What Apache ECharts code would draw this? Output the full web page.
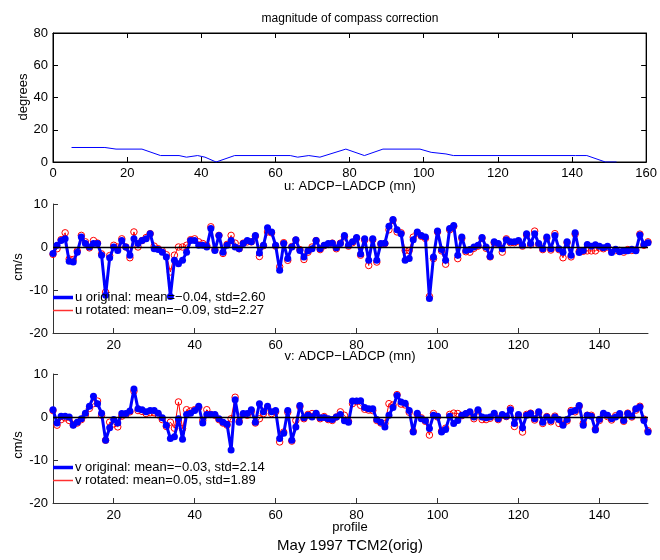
<!DOCTYPE html>
<html>
<head>
<meta charset="utf-8">
<script src="https://cdn.jsdelivr.net/npm/echarts@6/dist/echarts.min.js"></script>
<style>
  html, body { margin: 0; padding: 0; background: #fff; }
  #chart { width: 660px; height: 560px; }
</style>
</head>
<body>
<div id="chart"></div>
<script>
// compass correction (degrees) per profile
var corrProfile = [5, 14, 17, 24, 29, 34, 36, 39, 41, 44, 49, 64, 66, 69, 72, 79, 84, 89, 99, 102, 106, 108, 141, 144, 149, 152]
var corrDeg = [9, 9, 8, 8, 4, 4, 3, 4, 3, 0, 4, 4, 3, 4, 3, 8, 4, 8, 8, 6, 5, 4, 4, 4, 0, 0]

// profiles 5..152, one value each (rows of 10)
var firstProfile = 5
var uOriginal = [
  -1.5, 0.4, 1.5, 1.9, -3.3, -3.5, -1.2, 2.3, 0.8, 0,
  0.8, 0.8, -1.9, -11.2, -2.5, 0, -0.8, 1.5, 0, -1.9,
  1.9, 0.8, 1.5, 1.9, 3.1, -0.4, -0.6, -1.2, -2.3, -11.5,
  -3.1, -3.9, -3.1, -1.2, 1.5, 1.5, 0.4, 0.4, 0, 4.3,
  -0.8, 2.7, -1.2, 0.4, 1.5, 0, -0.4, 0.8, 1.5, 1.2,
  2.7, -1.4, 0.4, 4.5, 3.5, 0.4, -5.4, 0.8, -2.7, 0,
  1.7, -0.8, -2.3, -0.9, -0.4, 1.5, -0.4, 0.4, 0.8, 0.9,
  -0.2, 0.8, 2.7, 0.4, 1.2, 2.2, -1.6, 1.9, -3.1, 1.9,
  -3.1, 0.8, 0.9, 4.8, 6.4, 4.0, 3.1, -3.1, -2.7, 1.7,
  3.5, 2.7, 2.3, -12.0, -2.3, 3.7, -0.6, -3.1, 4.3, 5.0,
  -1.9, 2.3, -0.8, -0.6, 0, 0.4, 2.2, 0, -2.2, 1.2,
  0.8, -0.4, 1.7, 1.2, 1.2, 1.5, 0.4, 3.1, 0.8, 3.1,
  0.8, -0.4, 2.3, -0.4, 2.7, -0.4, -1.2, 1.2, -1.9, 3.3,
  -1.3, -0.8, 0.6, 0.2, 0.5, 0.2, -0.2, 0.2, -1.3, -0.5,
  -1.1, -0.9, -0.9, -0.5, -0.9, 2.8, 0.6, 1.0
]
var uRotated = [
  -1.7, -0.4, 1.7, 3.3, -2.8, -2.9, -0.9, 2.7, 1.2, -0.2,
  1.5, 0.9, -1.6, -10.5, -2.0, 0.4, 0, 1.9, 0, -2.5,
  3.5, 0, 1.5, 2.2, 3.1, 0.2, -0.4, -0.9, -1.8, -5.8,
  -1.9, 0, 0, 0.4, 1.7, 1.9, 1.2, 0.8, 0.3, 4.7,
  -0.6, 2.7, -1.5, 0.6, 2.7, 0.9, -0.4, 0.9, 1.2, 1.2,
  2.5, -2.2, 0.3, 3.5, 3.3, 0.2, -4.6, 1.0, -3.1, 0.1,
  1.6, -0.6, -2.9, -1.2, 0, 1.5, -0.6, 0.3, 0.6, 0.9,
  -0.4, 0.9, 2.4, 0.2, 1.0, 2.0, -1.9, 1.6, -4.3, 1.7,
  -3.5, 0.6, 0.8, 4.0, 6.2, 3.5, 3.3, -0.8, -0.8, 2.3,
  3.3, 2.5, 2.0, -11.5, -2.7, 3.5, -0.9, -4.0, 4.0, 4.8,
  -2.7, 2.0, -1.1, -1.2, -0.3, 0.2, 2.0, -0.3, -2.3, 1.0,
  0.6, -1.2, 1.9, 1.0, 1.0, 1.3, 0.2, 2.8, 0.5, 3.7,
  0.6, -0.6, 2.0, -0.7, 3.1, -0.6, -2.5, 1.0, -2.3, 3.0,
  -1.0, -1.0, -0.9, -0.9, -0.9, -0.2, -0.4, 0, -0.8, -0.8,
  -0.8, -1.2, -0.6, -0.8, -0.7, 3.0, 0.4, 1.2
]
var vOriginal = [
  1.7, -1.4, 0.2, 0.2, 0, -1.9, -1.2, -0.4, 0.9, 2.5,
  4.8, 3.1, 0.9, -5.4, -2.5, -0.6, -1.4, 0.8, 0.8, 1.4,
  6.5, 1.9, 1.7, 1.2, 1.5, 1.5, 0.9, -0.2, -1.9, -5.0,
  -4.6, -0.4, -5.2, 0.6, 0.9, 1.5, 2.5, -1.4, 0.6, 0.6,
  0.6, -0.4, -1.2, -1.7, -7.7, 4.0, -1.2, 0.8, 0.8, 1.7,
  -1.2, 3.1, 1.2, 2.5, 1.2, 1.5, -5.0, -3.8, 1.5, -5.4,
  -2.3, 2.7, -0.2, 0.4, 0, 0.9, -0.2, -0.1, -0.4, -0.6,
  0, 0.6, -0.9, -1.2, 3.7, 3.7, 3.8, 2.2, 1.9, 1.9,
  -0.6, -1.2, -2.3, 0.4, 2.2, 5.0, 3.5, 3.2, 1.5, -3.5,
  0.9, -0.4, -0.8, -2.7, 0.4, 0.2, -3.5, -2.9, 0.2, -1.5,
  -0.8, 0.4, 0.8, 1.2, 0, 1.7, 0, -0.2, 0, 0.9,
  -0.4, 0.6, 0.2, 1.7, -1.5, 0.6, -2.5, 0.4, 0.8, -0.4,
  1.2, -1.2, 0, -0.8, 0, -0.6, -1.9, -0.6, 1.2, 1.5,
  2.7, -1.9, 0.4, 0.2, -3.0, -0.5, 0.9, 0.4, -0.4, 0,
  0.8, -0.8, 0.8, 0.2, 1.9, 2.3, -0.8, -3.5
]
var vRotated = [
  1.5, -1.9, -0.6, -0.2, -0.8, -1.8, -1.4, -0.6, 0.5, 2.0,
  3.1, 3.7, 0.4, -5.4, -1.2, -1.6, -2.3, 0.2, 0.6, 1.2,
  6.0, 1.5, 1.3, 0.8, 1.0, 1.0, 0.5, -0.6, -2.2, -1.2,
  -2.6, 3.5, -2.7, 1.7, 1.4, 1.7, 2.2, -0.8, 1.7, 0.6,
  0.4, -0.6, -1.4, -1.9, -0.4, 4.6, -1.0, 0.6, 0.4, 1.3,
  -1.4, -0.4, 0.8, 2.2, 0.8, 1.2, -5.8, -3.5, 1.1, -5.6,
  -0.8, 2.4, -0.4, 0.6, 0.8, 0.7, -0.4, 0.1, -0.6, -0.8,
  0, 1.2, 0.4, -1.0, 3.1, 3.6, 2.7, 1.8, 1.6, 1.5,
  -0.8, -1.4, -1.5, 3.1, 2.8, 5.2, 3.0, 2.8, 1.1, -3.3,
  0.6, -0.2, -1.0, -4.2, 0.8, 0, -3.3, -2.6, 0.6, 0.9,
  0.8, 0.3, 0.7, 1.0, -0.4, 1.4, -0.6, -0.6, -0.3, 0.6,
  -0.6, 0.4, 0.1, 2.0, -2.2, 0.3, -3.5, 0.6, 0.9, -0.7,
  1.0, -1.5, 0.1, -1.1, 0.2, -1.5, -1.7, -0.9, 1.5, 1.2,
  2.5, -1.5, 0.4, 0.4, -2.8, -0.8, 0.6, 0.1, -0.7, 0.3,
  0.5, -1.0, 0.9, 0, 1.6, 2.5, -0.5, -3.2
]

var profileTicks = [20, 40, 60, 80, 100, 120, 140]
var uOrigName = 'u original: mean=\u22120.04, std=2.60'
var uRotName = 'u rotated: mean=\u22120.09, std=2.27'
var vOrigName = 'v original: mean=\u22120.03, std=2.14'
var vRotName = 'v rotated: mean=0.05, std=1.89'

var FONT = 'Liberation Sans, Arial, sans-serif'

function withProfiles(vals) {
  return vals.map(function (v, i) { return [firstProfile + i, v] })
}

var chart = echarts.init(document.getElementById('chart'))

function boxAxis(gridIndex, pos, min, max, interval, showLabel) {
  return {
    gridIndex: gridIndex,
    type: 'value',
    position: pos,
    min: min,
    max: max,
    interval: interval,
    axisLine: { show: true, onZero: false, lineStyle: { color: '#000', width: 1 } },
    axisTick: { show: true, inside: true, length: 5, lineStyle: { color: '#000' } },
    axisLabel: { show: showLabel, color: '#000', fontSize: 13, fontFamily: FONT, margin: 5 },
    splitLine: { show: false }
  }
}

function profileAxis(gridIndex) {
  return {
    gridIndex: gridIndex,
    type: 'value',
    min: 5,
    max: 152,
    axisLine: { show: true, onZero: false, lineStyle: { color: '#333', width: 1 } },
    axisTick: { show: true, inside: true, length: 5, customValues: profileTicks, lineStyle: { color: '#333' } },
    axisLabel: { color: '#000', fontSize: 13, fontFamily: FONT, margin: 6, customValues: profileTicks },
    splitLine: { show: false }
  }
}

function cmsAxis(gridIndex) {
  return {
    gridIndex: gridIndex,
    type: 'value',
    min: -20,
    max: 10,
    interval: 10,
    axisLine: { show: true, onZero: false, lineStyle: { color: '#333', width: 1 } },
    axisTick: { show: true, inside: true, length: 5, lineStyle: { color: '#333' } },
    axisLabel: { color: '#000', fontSize: 13, fontFamily: FONT, margin: 5 },
    splitLine: { show: false }
  }
}

function legendFor(name, top, color, thick) {
  return {
    data: [name],
    left: 53,
    top: top,
    padding: 0,
    orient: 'vertical',
    icon: 'rect',
    itemWidth: 20,
    itemHeight: thick,
    selectedMode: false,
    itemStyle: { color: color, borderWidth: 0 },
    textStyle: { color: '#000', fontSize: 13, fontFamily: FONT, padding: [0, 0, 0, -3] }
  }
}

function rotatedSeries(name, axisIdx, vals) {
  return {
    name: name,
    type: 'line',
    xAxisIndex: axisIdx,
    yAxisIndex: axisIdx,
    data: withProfiles(vals),
    symbol: 'circle',
    symbolSize: 6.5,
    showAllSymbol: true,
    itemStyle: { color: 'rgba(255,255,255,0)', borderColor: '#ff0000', borderWidth: 1 },
    lineStyle: { color: '#ff0000', width: 1 },
    z: 2,
    animation: false
  }
}

function originalSeries(name, axisIdx, vals) {
  return {
    name: name,
    type: 'line',
    xAxisIndex: axisIdx,
    yAxisIndex: axisIdx,
    data: withProfiles(vals),
    symbol: 'circle',
    symbolSize: 7,
    showAllSymbol: true,
    itemStyle: { color: '#0000ff' },
    lineStyle: { color: '#0000ff', width: 3 },
    z: 3,
    animation: false,
    markLine: {
      silent: true,
      symbol: 'none',
      label: { show: false },
      lineStyle: { color: '#000', width: 1.3, type: 'solid' },
      data: [{ yAxis: 0 }],
      animation: false
    }
  }
}

function label(text, x, y, size, rot) {
  return {
    type: 'text',
    x: x,
    y: y,
    rotation: rot || 0,
    style: {
      text: text,
      fill: '#000',
      font: size + 'px ' + FONT,
      textAlign: 'center',
      textVerticalAlign: 'middle'
    }
  }
}

var option = {
  backgroundColor: '#fff',
  animation: false,
  grid: [
    { left: 53, top: 33, width: 595, height: 129, show: true, borderColor: '#000', borderWidth: 1, backgroundColor: 'transparent' },
    { left: 53, top: 204, width: 595, height: 129 },
    { left: 53, top: 374, width: 595, height: 129 }
  ],
  xAxis: [
    boxAxis(0, 'bottom', 0, 160, 20, true),
    boxAxis(0, 'top', 0, 160, 20, false),
    profileAxis(1),
    profileAxis(2)
  ],
  yAxis: [
    boxAxis(0, 'left', 0, 80, 20, true),
    boxAxis(0, 'right', 0, 80, 20, false),
    cmsAxis(1),
    cmsAxis(2)
  ],
  legend: [
    legendFor(uOrigName, 291, '#0000ff', 3.5),
    legendFor(uRotName, 304, '#ff3030', 1.5),
    legendFor(vOrigName, 461, '#0000ff', 3.5),
    legendFor(vRotName, 474, '#ff3030', 1.5)
  ],
  graphic: [
    label('magnitude of compass correction', 350, 19, 12),
    label('degrees', 23, 97, 13, Math.PI / 2),
    label('u: ADCP\u2212LADCP (mn)', 350, 186, 13),
    label('cm/s', 18, 267, 13, Math.PI / 2),
    label('v: ADCP\u2212LADCP (mn)', 350, 356, 13),
    label('cm/s', 18, 445, 13, Math.PI / 2),
    label('profile', 350, 527, 13),
    label('May 1997 TCM2(orig)', 350, 546, 15)
  ],
  series: [
    {
      name: 'correction',
      type: 'line',
      xAxisIndex: 0,
      yAxisIndex: 0,
      data: corrProfile.map(function (p, i) { return [p, corrDeg[i]] }),
      showSymbol: false,
      lineStyle: { color: '#0000ff', width: 1 },
      itemStyle: { color: '#0000ff' },
      animation: false
    },
    rotatedSeries(uRotName, 2, uRotated),
    originalSeries(uOrigName, 2, uOriginal),
    rotatedSeries(vRotName, 3, vRotated),
    originalSeries(vOrigName, 3, vOriginal)
  ]
}

chart.setOption(option)
</script>
</body>
</html>
